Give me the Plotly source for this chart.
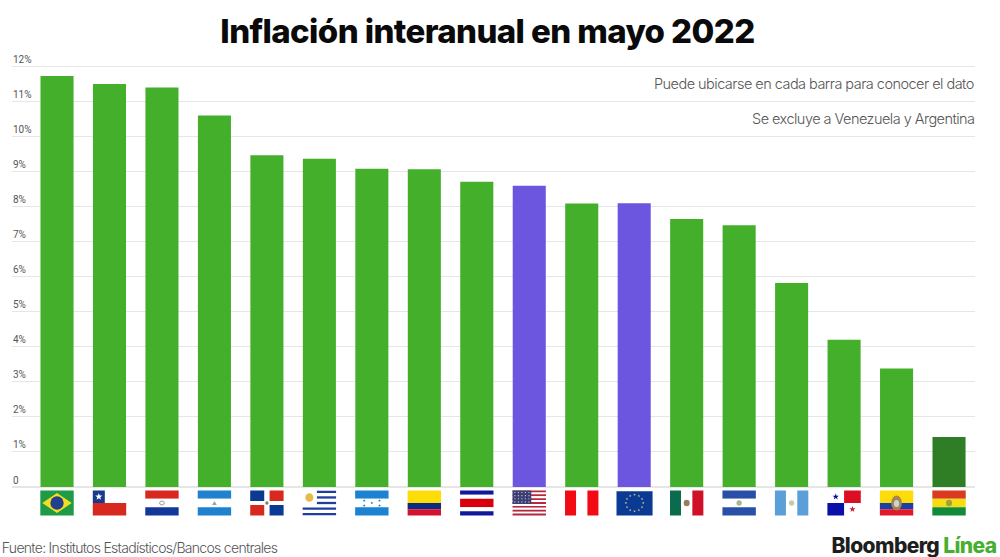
import math
import plotly.graph_objects as go

countries = ["Brasil", "Chile", "Paraguay", "Nicaragua", "Rep. Dominicana", "Uruguay", "Honduras", "Colombia",
             "Costa Rica", "Estados Unidos", "Perú", "Eurozona", "México", "El Salvador", "Guatemala", "Panamá",
             "Ecuador", "Bolivia"]
inflation = [11.73, 11.50, 11.40, 10.60, 9.47, 9.37, 9.08, 9.07, 8.71, 8.60, 8.09, 8.10, 7.65, 7.47, 5.82, 4.20, 3.38, 1.43]
GREEN, PURPLE, DARK = "#43AF2B", "#6C55DF", "#2F7D24"
bar_colors = [GREEN] * 9 + [PURPLE, GREEN, PURPLE] + [GREEN] * 5 + [DARK]
tick_vals = list(range(0, 13))
tick_text = ["0"] + [f"{v}%" for v in tick_vals[1:]]

W, H = 1000, 557
ML, MR, MT, MB = 12, 25, 50, 70
PW, PH = W - ML - MR, H - MT - MB
XR = [-0.858, 17.495]
YR = [0, (H - MB - MT) / 35.04]
FW, FY0, FY1 = 33.4, 490.5, 515.5
shapes = []


def px(i, u):
    c = ML + (i - XR[0]) / (XR[1] - XR[0]) * PW
    return (c - FW / 2 + u * FW - ML) / PW


def py(v):
    return (H - MB - (FY0 + v * (FY1 - FY0))) / PH


def rect(i, u0, v0, u1, v1, c):
    shapes.append(dict(type="rect", xref="paper", yref="paper", x0=px(i, u0), x1=px(i, u1), y0=py(v0), y1=py(v1),
                       fillcolor=c, line_width=0, layer="above"))


def oval(i, u, v, ru, rv, c, line=None):
    shapes.append(dict(type="circle", xref="paper", yref="paper", x0=px(i, u - ru), x1=px(i, u + ru),
                       y0=py(v - rv), y1=py(v + rv), fillcolor=c,
                       line=dict(width=1 if line else 0, color=line or c), layer="above"))


def poly(i, pts, c):
    d = "M" + "L".join(f"{px(i, a):.5f},{py(b):.5f}" for a, b in pts) + "Z"
    shapes.append(dict(type="path", xref="paper", yref="paper", path=d, fillcolor=c, line_width=0, layer="above"))


def star(i, u, v, r, c):
    pts = []
    for k in range(10):
        rr = r if k % 2 == 0 else r * 0.42
        a = -math.pi / 2 + k * math.pi / 5
        pts.append((u + rr * math.cos(a) * 25 / 33.4, v + rr * math.sin(a)))
    poly(i, pts, c)


def hstripes(i, cols, fr=None):
    fr = fr or [1 / len(cols)] * len(cols)
    t = 0
    for c, f in zip(cols, fr):
        rect(i, 0, t, 1, t + f, c)
        t += f


# Brazil
rect(0, 0, 0, 1, 1, "#1F9B47")
poly(0, [(0.5, 0.1), (0.94, 0.5), (0.5, 0.9), (0.06, 0.5)], "#F6DE1F")
oval(0, 0.5, 0.5, 0.2, 0.27, "#22408C")
# Chile
rect(1, 0, 0, 1, 0.5, "#FFFFFF")
rect(1, 0, 0.5, 1, 1, "#D8291F")
rect(1, 0, 0, 0.36, 0.5, "#17398F")
star(1, 0.18, 0.25, 0.15, "#FFFFFF")
# Paraguay
hstripes(2, ["#D8281F", "#FFFFFF", "#12399A"])
oval(2, 0.5, 0.5, 0.07, 0.08, "#FFFFFF", "#8FA08F")
# Nicaragua
hstripes(3, ["#1E82CF", "#FFFFFF", "#1E82CF"])
poly(3, [(0.5, 0.42), (0.57, 0.58), (0.43, 0.58)], "#8AA6B0")
# Dominican Republic
rect(4, 0, 0, 1, 1, "#FFFFFF")
rect(4, 0, 0, 0.42, 0.42, "#0B3A92")
rect(4, 0.58, 0, 1, 0.42, "#D8291F")
rect(4, 0, 0.58, 0.42, 1, "#D8291F")
rect(4, 0.58, 0.58, 1, 1, "#0B3A92")
oval(4, 0.5, 0.5, 0.05, 0.07, "#8A7A70")
# Uruguay
rect(5, 0, 0, 1, 1, "#FFFFFF")
for k in (0, 2, 4, 6, 8):
    u0 = 0.42 if k < 5 else 0
    rect(5, u0, k / 9 + 0.01, 1, (k + 1) / 9 - 0.01, "#1F3F9E")
rect(5, 0, 0, 0.42, 0.55, "#FFFFFF")
oval(5, 0.2, 0.28, 0.12, 0.17, "#E5BC4A")
# Honduras
hstripes(6, ["#1B83D2", "#FFFFFF", "#1B83D2"])
for u, v in [(0.27, 0.4), (0.73, 0.4), (0.5, 0.5), (0.27, 0.6), (0.73, 0.6)]:
    star(6, u, v, 0.06, "#1B83D2")
# Colombia
hstripes(7, ["#FCDD09", "#0B2A80", "#D2122E"], [0.5, 0.25, 0.25])
# Costa Rica
hstripes(8, ["#11189B", "#FFFFFF", "#D8000C", "#FFFFFF", "#11189B"], [1 / 6, 1 / 6, 2 / 6, 1 / 6, 1 / 6])
# USA
for k in range(13):
    rect(9, 0, k / 13, 1, (k + 1) / 13, "#B4293F" if k % 2 == 0 else "#FFFFFF")
rect(9, 0, 0, 0.56, 0.54, "#3C3F73")
for a in range(5):
    for b in range(4):
        oval(9, 0.07 + a * 0.105, 0.08 + b * 0.125, 0.018, 0.024, "#D8D8E4")
# Peru
rect(10, 0, 0, 0.33, 1, "#F20A14")
rect(10, 0.67, 0, 1, 1, "#F20A14")
# EU
rect(11, -0.03, 0.03, 1.05, 1, "#0A3A94")
for k in range(12):
    a = k * math.pi / 6
    star(11, 0.51 + 0.26 * math.cos(a), 0.5 + 0.33 * math.sin(a), 0.055, "#C9C98A")
# Mexico
rect(12, 0, 0, 0.33, 1, "#0A6B4E")
rect(12, 0.67, 0, 1, 1, "#CE1126")
oval(12, 0.5, 0.5, 0.09, 0.13, "#9A7B5E")
# El Salvador
hstripes(13, ["#2850A8", "#FFFFFF", "#2850A8"])
oval(13, 0.5, 0.5, 0.08, 0.11, "#A8B88A")
# Guatemala
rect(14, 0, 0, 0.33, 1, "#5B9FD8")
rect(14, 0.67, 0, 1, 1, "#5B9FD8")
oval(14, 0.5, 0.5, 0.08, 0.11, "#C4CBA8")
# Panama
rect(15, 0.5, 0, 1, 0.5, "#DC0F22")
rect(15, 0, 0.5, 0.5, 1, "#0A0FA8")
star(15, 0.25, 0.25, 0.13, "#0A0FA8")
star(15, 0.75, 0.75, 0.13, "#C2203A")
# Ecuador
hstripes(16, ["#FCDD09", "#1B3FA8", "#E0182A"], [0.5, 0.25, 0.25])
oval(16, 0.5, 0.5, 0.16, 0.3, "#A88550")
oval(16, 0.5, 0.52, 0.08, 0.14, "#C8D4DC")
# Bolivia
hstripes(17, ["#D93A20", "#F6DC12", "#118A3A"])
oval(17, 0.5, 0.5, 0.09, 0.13, "#9AA23C")

fig = go.Figure(go.Bar(x=countries, y=inflation, marker=dict(color=bar_colors, line_width=0), width=0.63,
                       hovertemplate="%{x}: %{y:.2f}%<extra></extra>"))

TXT = "#555555"
annos = [
    dict(text="Puede ubicarse en cada barra para conocer el dato", x=989, y=83),
    dict(text="Se excluye a Venezuela y Argentina", x=986, y=118),
]
ann = [dict(xref="paper", yref="paper", x=(a["x"] - ML) / PW, y=(H - MB - a["y"]) / PH, text=a["text"],
            showarrow=False, xanchor="right", yanchor="middle",
            font=dict(family="Inter", size=14.5, color=TXT, weight=300)) for a in annos]
ann.append(dict(xref="paper", yref="paper", x=(-17 - ML) / PW, y=(H - MB - 547) / PH, text="Fuente: Institutos Estadísticos/Bancos centrales",
                showarrow=False, xanchor="left", yanchor="middle", font=dict(family="Inter", size=14, color=TXT, weight=300)))
ann.append(dict(xref="paper", yref="paper", x=(1003 - ML) / PW, y=(H - MB - 545) / PH,
                text="Bloomberg <span style='color:#46B02E'>Línea</span>", showarrow=False, xanchor="right", yanchor="middle",
                font=dict(family="Inter", size=21, color="#1E1E1E", weight=800)))
for v, t in zip(tick_vals, tick_text):
    ann.append(dict(xref="paper", yref="y", x=-1 / PW, y=v, text=t, showarrow=False, xanchor="left", yanchor="middle",
                    yshift=7, font=dict(family="Roboto", size=10, color="#555555")))

fig.update_layout(
    width=W, height=H, margin=dict(l=ML, r=MR, t=MT, b=MB, pad=0), paper_bgcolor="white", plot_bgcolor="white",
    showlegend=False, shapes=shapes, annotations=ann,
    title=dict(text="Inflación interanual en mayo 2022", x=487.5 / W, xanchor="center", y=1 - 31 / H, yanchor="middle",
               font=dict(family="Inter", size=33, color="#0A0A0A", weight=800)),
    xaxis=dict(type="category", range=XR, showticklabels=False, showgrid=False, ticks="", zeroline=False, showline=False),
    yaxis=dict(range=YR, tickvals=tick_vals, showticklabels=False, showgrid=True,
               gridcolor="#E6E6E6", gridwidth=1, zeroline=True, zerolinecolor="#E6E6E6", showline=False, ticks=""),
    bargap=0.37,
)
css = """
var s=document.createElement('style');
s.textContent=".gtitle{letter-spacing:-0.6px}"
+".annotation[data-index='0'] text,.annotation[data-index='1'] text{letter-spacing:-0.53px}"
+".annotation[data-index='2'] text{letter-spacing:-0.7px}"
+".annotation[data-index='3'] text{letter-spacing:-0.6px}";
document.head.appendChild(s);
document.body.style.margin='0';
"""
fig.write_html("out.html", config=dict(displayModeBar=False), post_script=css)
